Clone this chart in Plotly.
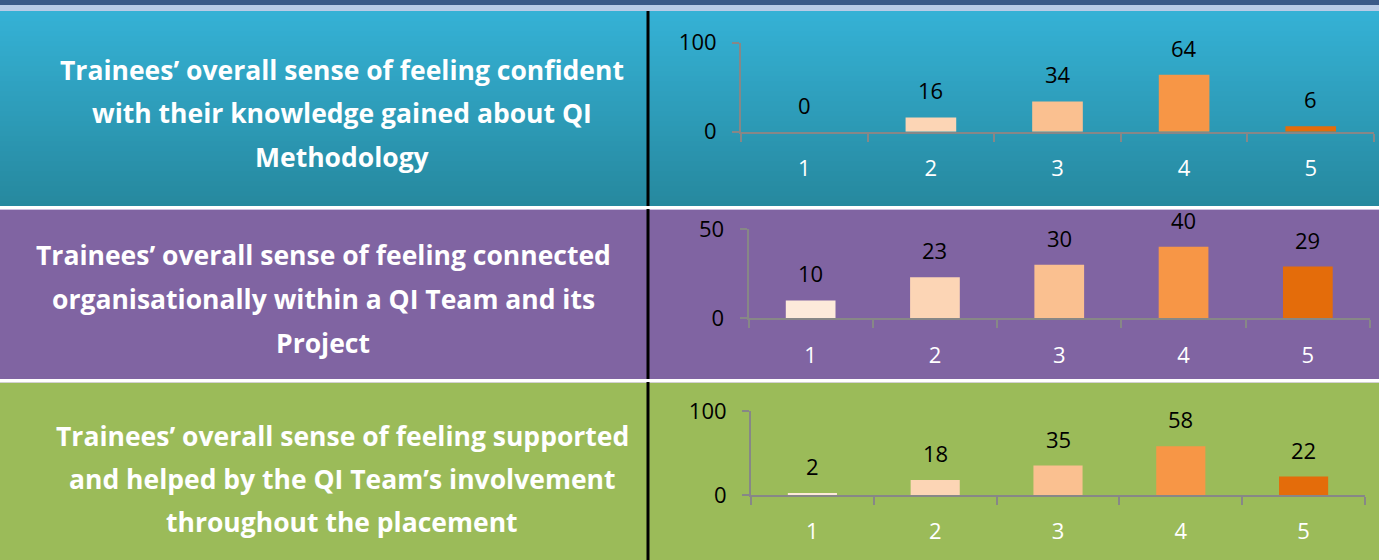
import plotly.graph_objects as go

# ---------------- data ----------------
categories = ["1", "2", "3", "4", "5"]
confident = [0, 16, 34, 64, 6]
connected = [10, 23, 30, 40, 29]
supported = [2, 18, 35, 58, 22]
y_max = [100, 50, 100]

titles = [
    ["Trainees’ overall sense of feeling confident",
     "with their knowledge gained about QI",
     "Methodology"],
    ["Trainees’ overall sense of feeling connected",
     "organisationally within a QI Team and its",
     "Project"],
    ["Trainees’ overall sense of feeling supported",
     "and helped by the QI Team’s involvement",
     "throughout the placement"],
]

bar_colors = ["#fdeada", "#fcd5b5", "#fac090", "#f79646", "#e46c0a"]

# ---------------- geometry (pixels) ----------------
W, H = 1379, 560
series = [confident, connected, supported]
panel_px = [(11, 206), (209, 379), (382, 560)]
panel_colors = [None, "#8064a2", "#9bbb59"]
axis_x_px = [(741, 1374), (748.5, 1370), (751, 1365)]
axis_y_px = [(42.7, 131.7), (229, 318.3), (411, 495)]
title_x_px = [342, 323, 342]
title_y_px = [(70, 113, 157), (255, 299, 343), (436, 479, 522)]

FONT = "Open Sans"
GRAY = "#878787"


def px(x):
    return x / W


def py(y):
    return 1 - y / H


fig = go.Figure()
shapes = []
annotations = []

# top strip
shapes.append(dict(type="rect", xref="paper", yref="paper", x0=0, x1=1,
                   y0=py(5), y1=py(0), fillcolor="#3b5a89", line_width=0, layer="below"))
shapes.append(dict(type="rect", xref="paper", yref="paper", x0=0, x1=1,
                   y0=py(11), y1=py(5), fillcolor="#b9cbe7", line_width=0, layer="below"))

# blue gradient panel (overlapping bands)
top_c = (0x35, 0xb2, 0xd6)
bot_c = (0x26, 0x88, 0x9e)
y0p, y1p = panel_px[0]
n = 39
step = (y1p - y0p) / n
for i in range(n):
    t = (i + 0.5) / n
    c = tuple(int(round(top_c[k] + (bot_c[k] - top_c[k]) * t)) for k in range(3))
    a = y0p + step * i
    b = min(a + step + 2, y1p)
    shapes.append(dict(type="rect", xref="paper", yref="paper", x0=0, x1=1,
                       y0=py(b), y1=py(a), fillcolor="rgb(%d,%d,%d)" % c,
                       line_width=0, layer="below"))

for i in (1, 2):
    a, b = panel_px[i]
    shapes.append(dict(type="rect", xref="paper", yref="paper", x0=0, x1=1,
                       y0=py(b), y1=py(a), fillcolor=panel_colors[i], line_width=0, layer="below"))
    # faint light line under the white separator
    shapes.append(dict(type="line", xref="paper", yref="paper", x0=0, x1=1,
                       y0=py(a + 0.5), y1=py(a + 0.5),
                       line=dict(color="rgba(225,215,240,0.8)", width=1)))

# divider black lines
for a, b in panel_px:
    shapes.append(dict(type="line", xref="paper", yref="paper", x0=px(648), x1=px(648),
                       y0=py(b), y1=py(a), line=dict(color="#000000", width=3)))

layout_axes = {}
for i in range(3):
    xname = "x" if i == 0 else "x%d" % (i + 1)
    yname = "y" if i == 0 else "y%d" % (i + 1)
    xkey = "xaxis" if i == 0 else "xaxis%d" % (i + 1)
    ykey = "yaxis" if i == 0 else "yaxis%d" % (i + 1)
    vals = series[i]
    fig.add_trace(go.Bar(
        x=categories, y=vals, xaxis=xname, yaxis=yname,
        marker=dict(color=bar_colors, line=dict(width=0)),
        width=0.4, showlegend=False, hoverinfo="x+y",
    ))
    for j, v in enumerate(vals):
        annotations.append(dict(
            x=j, y=v, xref=xname, yref=yname, text=str(v), showarrow=False,
            xanchor="center", yanchor="middle", yshift=27,
            font=dict(family=FONT, size=22, color="#000000"),
        ))
    xa, xb = axis_x_px[i]
    ya, yb = axis_y_px[i]
    layout_axes[xkey] = dict(
        domain=[px(xa), px(xb)], anchor=yname, type="category",
        range=[-0.5, len(categories) - 0.5], automargin=False,
        showline=True, linecolor=GRAY, linewidth=2,
        ticks="outside", tickson="boundaries", ticklen=8, tickcolor=GRAY, tickwidth=2,
        showgrid=False, zeroline=False, ticklabelstandoff=16,
        tickfont=dict(family=FONT, size=22, color="#ffffff"),
        fixedrange=True,
    )
    layout_axes[ykey] = dict(
        domain=[py(yb), py(ya)], anchor=xname, range=[0, y_max[i]], automargin=False,
        tickvals=[0, y_max[i]], showline=True, linecolor=GRAY, linewidth=2,
        ticks="outside", ticklen=7, tickcolor=GRAY, tickwidth=2,
        showgrid=True, gridcolor=GRAY, gridwidth=2, zeroline=False,
        ticklabelstandoff=11,
        tickfont=dict(family=FONT, size=22, color="#000000"),
        fixedrange=True,
    )
    for line, ty in zip(titles[i], title_y_px[i]):
        annotations.append(dict(
            x=px(title_x_px[i]), y=py(ty), xref="paper", yref="paper",
            text="<b>%s</b>" % line, showarrow=False,
            xanchor="center", yanchor="middle",
            font=dict(family=FONT, size=26.5, color="#ffffff"),
        ))

fig.update_layout(
    width=W, height=H,
    margin=dict(l=0, r=0, t=0, b=0),
    paper_bgcolor="#ffffff", plot_bgcolor="rgba(0,0,0,0)",
    shapes=shapes, annotations=annotations,
    **layout_axes,
)

fig.write_html(
    "out.html",
    config={"displayModeBar": False},
    post_script="document.body.style.margin='0px';document.body.style.overflow='hidden';",
)
